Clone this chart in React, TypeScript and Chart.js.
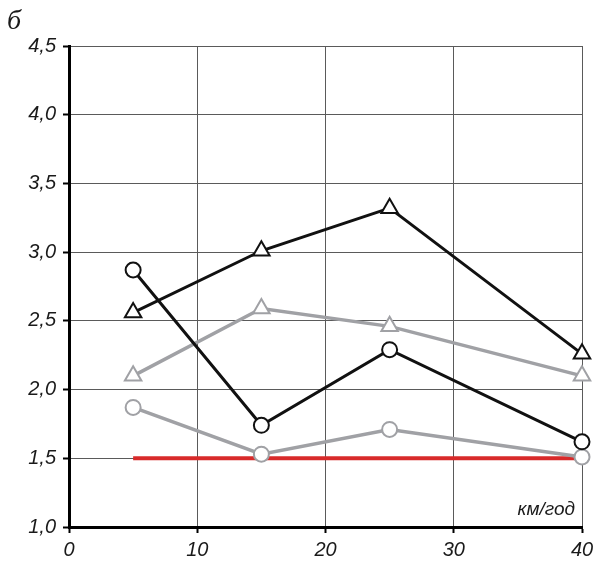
import React, { useEffect, useRef } from "react";
import { Chart, registerables } from "chart.js";

Chart.register(...registerables);

// Speed, km/h
const speeds = [5, 15, 25, 40];

// Measured series
const blackTriangles = [2.56, 3.01, 3.32, 2.26];
const grayTriangles = [2.1, 2.59, 2.46, 2.1];
const blackCircles = [2.87, 1.74, 2.29, 1.62];
const grayCircles = [1.87, 1.53, 1.71, 1.51];

// Limit line
const limitX = [5, 40];
const limitY = [1.5, 1.5];

const xTicks = [0, 10, 20, 30, 40];
const yTicks = [1.0, 1.5, 2.0, 2.5, 3.0, 3.5, 4.0, 4.5];

const unitLabel = "км/год";
const panelLabel = "б";

const BLACK = "#111111";
const GRAY = "#a0a1a5";
const RED = "#d82a2a";

const SANS = "'Liberation Sans', Arial, sans-serif";

const toPoints = (xs: number[], ys: number[]) => xs.map((x, i) => ({ x, y: ys[i] }));

const textPlugin = {
  id: "extraText",
  afterDraw(chart: any) {
    const { ctx, chartArea } = chart;
    ctx.save();
    ctx.fillStyle = "#1a1a1a";
    ctx.font = `italic 19px ${SANS}`;
    ctx.textAlign = "right";
    ctx.textBaseline = "alphabetic";
    ctx.fillText(unitLabel, chartArea.right - 7, chartArea.bottom - 12);
    ctx.font = "italic 28px 'Liberation Serif', 'Times New Roman', serif";
    ctx.textAlign = "left";
    ctx.fillText(panelLabel, 7, 29);
    ctx.restore();
  },
};

export default function App() {
  const ref = useRef<HTMLCanvasElement | null>(null);

  useEffect(() => {
    if (!ref.current) return;
    const lineDs = (label: string, ys: number[], color: string, style: string, radius: number, width: number) => ({
      label,
      data: toPoints(speeds, ys),
      borderColor: color,
      borderWidth: width,
      pointStyle: style,
      pointRadius: radius,
      pointBorderWidth: 2,
      pointBorderColor: color,
      pointBackgroundColor: "#ffffff",
      tension: 0,
      clip: false,
    });
    const chart = new Chart(ref.current, {
      type: "line",
      data: {
        datasets: [
          lineDs("black-tri", blackTriangles, BLACK, "triangle", 9.5, 3),
          lineDs("black-circ", blackCircles, BLACK, "circle", 7.5, 3),
          lineDs("gray-tri", grayTriangles, GRAY, "triangle", 9.5, 3.5),
          lineDs("gray-circ", grayCircles, GRAY, "circle", 7.5, 3.5),
          {
            label: "limit",
            data: toPoints(limitX, limitY),
            borderColor: RED,
            borderWidth: 4,
            pointRadius: 0,
            tension: 0,
          },
        ] as any,
      },
      options: {
        animation: false,
        responsive: false,
        events: [],
        layout: { padding: { top: 46, right: 13, left: 0, bottom: 0 } },
        plugins: { legend: { display: false }, tooltip: { enabled: false } },
        scales: {
          x: {
            type: "linear",
            min: 0,
            max: 40,
            afterBuildTicks: (s: any) => {
              s.ticks = xTicks.map((v) => ({ value: v }));
            },
            afterFit: (s: any) => {
              s.height = 34;
              s.paddingLeft = 0;
              s.paddingRight = 0;
            },
            ticks: {
              color: "#1a1a1a",
              font: { family: SANS, size: 20, style: "italic" },
              padding: 5,
              maxRotation: 0,
              callback: (v: any) => String(v),
            },
            grid: {
              color: "#5a5a5a",
              lineWidth: 1,
              tickColor: "#000",
              tickWidth: 2,
              tickLength: 6,
            },
            border: { color: "#000", width: 3 },
          },
          y: {
            type: "linear",
            min: 1,
            max: 4.5,
            afterBuildTicks: (s: any) => {
              s.ticks = yTicks.map((v) => ({ value: v }));
            },
            afterFit: (s: any) => {
              s.width = 69;
              s.paddingTop = 0;
              s.paddingBottom = 0;
            },
            ticks: {
              color: "#1a1a1a",
              font: { family: SANS, size: 20, style: "italic" },
              padding: 7,
              callback: (v: any) => Number(v).toFixed(1).replace(".", ","),
            },
            grid: {
              color: "#5a5a5a",
              lineWidth: 1,
              tickColor: "#000",
              tickWidth: 2,
              tickLength: 6,
            },
            border: { color: "#000", width: 3 },
          },
        },
      },
      plugins: [textPlugin],
    });
    return () => chart.destroy();
  }, []);

  return (
    <div style={{ position: "absolute", left: 0, top: 0, width: 595, height: 561, background: "#fff" }}>
      <canvas ref={ref} width={595} height={561} style={{ width: 595, height: 561, display: "block" }} />
    </div>
  );
}
